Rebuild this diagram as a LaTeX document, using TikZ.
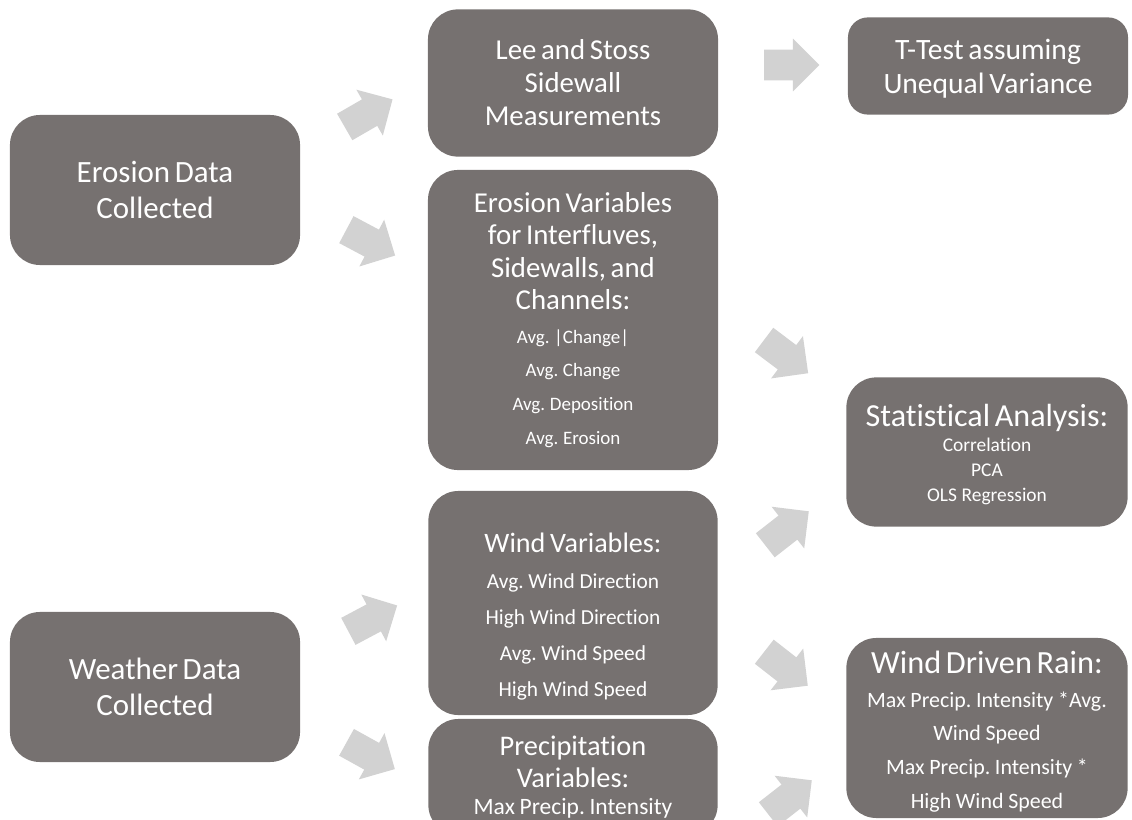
\documentclass[tikz,border=0pt]{standalone}
\usepackage{fontspec}
\setmainfont{Carlito}[Ligatures=NoCommon]
\usepackage{tikz}
\usetikzlibrary{shapes.arrows}
\definecolor{boxgray}{RGB}{118,113,112}
\definecolor{arrowgray}{RGB}{210,210,210}
\newcommand{\fs}[2]{\fontsize{#1}{#2}\selectfont}
% pushes the text of a box down by half of #1
\newcommand{\pushdown}[1]{\par\vspace{-#1}\kern0pt}
\def\picw{1132}
\def\pich{820}
\frenchspacing

\begin{document}
\begin{tikzpicture}[x=0.025cm, y=-0.025cm,
	box/.style={fill=boxgray, text=white, rounded corners=0.75cm, inner sep=0pt, text width=6.6cm, align=center},
	blockarrow/.style={single arrow, fill=arrowgray, inner sep=0.375cm, minimum height=1.38cm, single arrow head extend=0.28cm}]
	\useasboundingbox (0,0) rectangle (\picw,\pich);
	\clip (0,0) rectangle (\picw,\pich);
	% data collected
	\node[box, minimum width=7.25cm, minimum height=3.75cm] (erodata) at (155,190) {\fs{22pt}{25.5pt}Erosion Data\\Collected\par};
	\node[box, minimum width=7.25cm, minimum height=3.75cm] (weadata) at (155,687) {\fs{22pt}{25.5pt}Weather Data\\Collected\par};
	% variables
	\node[box, minimum width=7.25cm, minimum height=3.68cm] (lee) at (573,83) {\fs{20.5pt}{23.4pt}Lee and Stoss\\Sidewall\\Measurements\par};
	\node[box, minimum width=7.25cm, minimum height=7.5cm] (erovar) at (573,320) {\fs{20.5pt}{23pt}Erosion Variables\\for Interfluves,\\Sidewalls, and\\Channels:\par
		\fs{13.5pt}{24pt}Avg. |Change|\\Avg. Change\\Avg. Deposition\\Avg. Erosion\par};
	\node[box, minimum width=7.23cm, minimum height=5.6cm] (windvar) at (573,603) {\fs{20pt}{23pt}Wind Variables:\par
		\fs{15.2pt}{25.5pt}Avg. Wind Direction\\High Wind Direction\\Avg. Wind Speed\\High Wind Speed\pushdown{19pt}};
	\node[box, minimum width=7.23cm, minimum height=2.9cm] (precvar) at (573,777) {\fs{20.2pt}{23.4pt}Precipitation\\Variables:\par
		\fs{16.7pt}{19pt}Max Precip. Intensity\par};
	% analysis
	\node[box, rounded corners=0.5cm, minimum width=7cm, minimum height=2.43cm] (ttest) at (988,66) {\fs{21pt}{24pt}T-Test assuming\\Unequal Variance\pushdown{3.5pt}};
	\node[box, minimum width=7.03cm, minimum height=3.73cm] (stat) at (987,452) {\fs{22.8pt}{24pt}Statistical Analysis:\par
		\fs{13.8pt}{17.6pt}Correlation\\PCA\\OLS Regression\pushdown{3.5pt}};
	\node[box, minimum width=7.03cm, minimum height=4.5cm] (wdr) at (987,728) {\fs{23pt}{25pt}Wind Driven Rain:\par
		\fs{15.6pt}{24pt}Max Precip. Intensity *Avg.\\Wind Speed\\Max Precip. Intensity *\\High Wind Speed\pushdown{5pt}};
	% arrows
	\node[blockarrow, rotate=30] (a1) at (362,117) {};
	\node[blockarrow, rotate=-28] (a2) at (364,239) {};
	\node[blockarrow] (a3) at (784,65) {};
	\node[blockarrow, rotate=-37] (a4) at (780,352) {};
	\node[blockarrow, rotate=38] (a5) at (781,533) {};
	\node[blockarrow, rotate=28] (a6) at (366,622) {};
	\node[blockarrow, rotate=-29] (a7) at (364,752) {};
	\node[blockarrow, rotate=-38] (a8) at (780,664) {};
	\node[blockarrow, rotate=38] (a9) at (784,802) {};
\end{tikzpicture}
\end{document}
